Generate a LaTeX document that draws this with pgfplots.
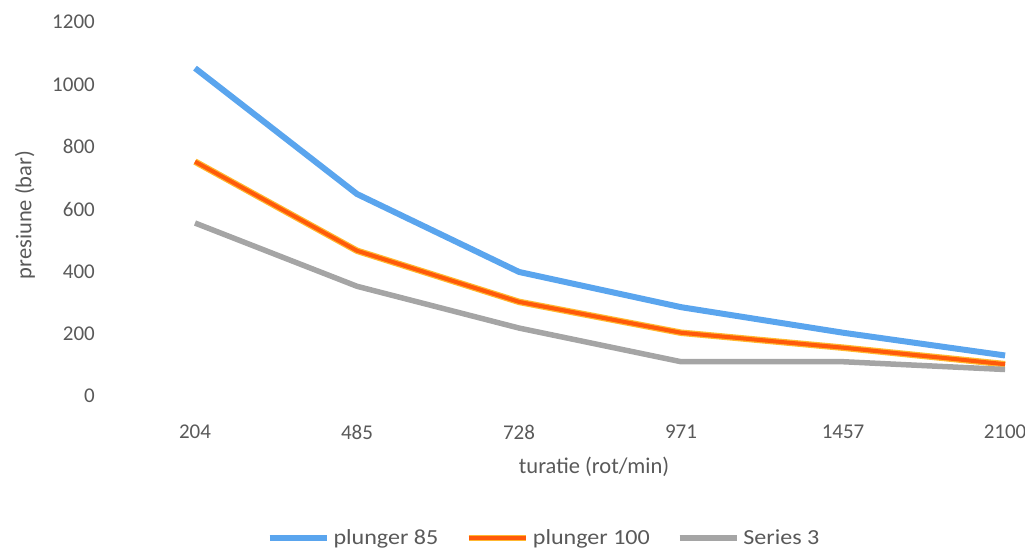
\documentclass[border=0pt]{standalone}
\usepackage{fontspec}
\setmainfont{Carlito}
\newfontfamily\legendfont[FakeStretch=1.12]{Carlito}
\usepackage{pgfplots}
\pgfplotsset{compat=1.18}

\definecolor{txtgrey}{HTML}{595959}
\definecolor{pblue}{HTML}{5AA5EE}
\definecolor{porange}{HTML}{FF5A0A}
\definecolor{pyellow}{HTML}{FFB830}
\definecolor{pgrey}{HTML}{A5A5A5}

\begin{document}
\begin{tikzpicture}[x=1pt,y=1pt]
\begin{axis}[
  at={(114pt,155pt)}, anchor=south west,
  scale only axis, width=911pt, height=374pt,
  xmin=-0.5, xmax=5.123, ymin=0, ymax=1200,
  clip=false,
  axis line style={draw=none},
  tick style={draw=none},
  xtick={0,...,5},
  xticklabels={204,485,728,971,1457,2100},
  ytick={0,200,...,1200},
  /pgf/number format/assume math mode=true,
  /pgf/number format/1000 sep={},
  tick label style={font=\fontsize{21}{25}\selectfont, text=txtgrey},
  yticklabel style={anchor=east, inner sep=0pt, xshift=-19pt},
  xticklabel style={anchor=center, inner sep=0pt, yshift=-36pt},
  label style={font=\fontsize{22.5}{26}\selectfont, text=txtgrey},
  xlabel={turatie (rot/min)},
  xlabel style={at={(axis description cs:0.527,-0.19)}, anchor=center},
  ylabel={presiune (bar)},
  ylabel style={at={(axis description cs:-0.0977,0.484)}, anchor=center, rotate=0},
  legend columns=3,
  legend style={at={(axis description cs:0.4709,-0.3797)}, anchor=center,
    draw=none, fill=none, font=\legendfont\fontsize{21.5}{26}\selectfont, text=txtgrey,
    nodes={inner xsep=0pt},
    /tikz/every odd column/.append style={column sep=4pt},
    /tikz/every even column/.append style={column sep=27pt}},
  legend cell align=left,
]
% plunger 85
\addplot[pblue, line width=6pt, line join=round,
  legend image code/.code={\draw[pblue, line width=6pt] (0pt,0pt)--(57pt,0pt);}]
  coordinates {(0,1052) (1,648) (2,398) (3,285) (4,203) (5,130)};
\addlegendentry{plunger 85}
% plunger 100: warm halo underneath, orange core on top
\addplot[pyellow, line width=6.5pt, line join=round, forget plot]
  coordinates {(0,752) (1,466) (2,302) (3,203) (4,155) (5,102)};
\addplot[porange, line width=4pt, line join=round,
  legend image code/.code={\draw[pyellow, line width=6.5pt] (0pt,0pt)--(57pt,0pt);
    \draw[porange, line width=4pt] (0pt,0pt)--(57pt,0pt);}]
  coordinates {(0,752) (1,466) (2,302) (3,203) (4,155) (5,102)};
\addlegendentry{plunger 100}
% Series 3
\addplot[pgrey, line width=5.5pt, line join=round,
  legend image code/.code={\draw[pgrey, line width=5.5pt] (0pt,0pt)--(57pt,0pt);}]
  coordinates {(0,555) (1,352) (2,218) (3,110) (4,110) (5,85)};
\addlegendentry{Series 3}
\end{axis}
\pgfresetboundingbox
\path[use as bounding box] (0,0) rectangle (1025pt,551pt);
\end{tikzpicture}
\end{document}
